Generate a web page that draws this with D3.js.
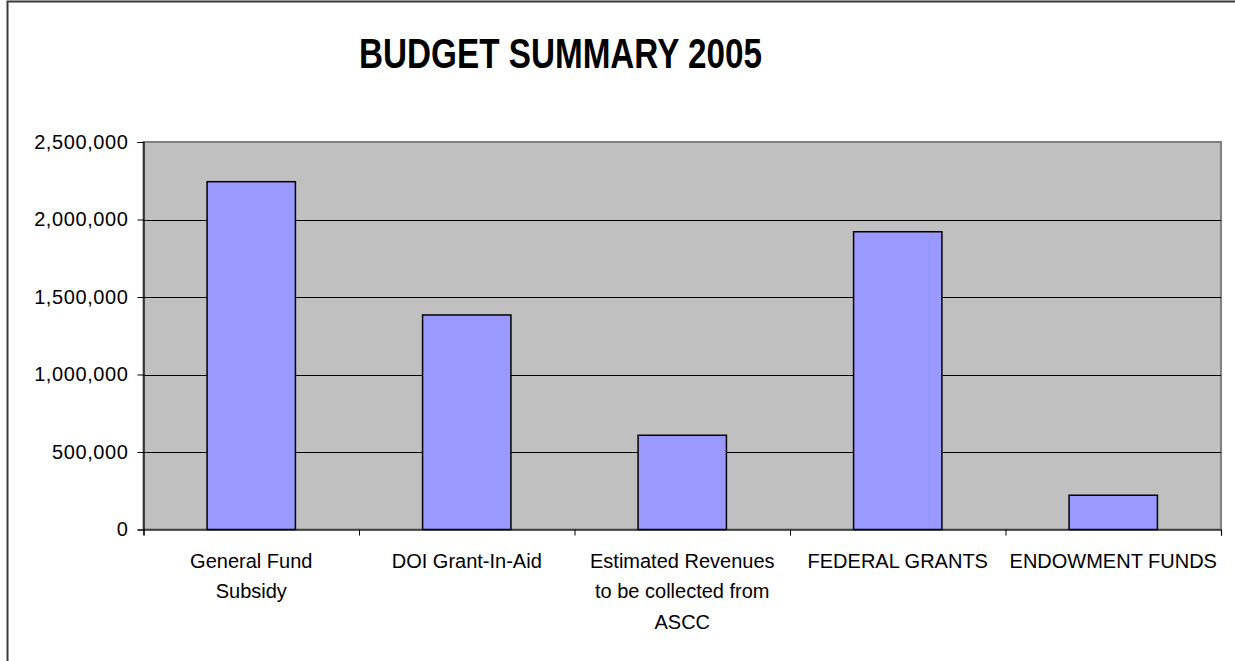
<!DOCTYPE html>
<html>
<head>
<meta charset="utf-8">
<script src="https://cdn.jsdelivr.net/npm/d3@7"></script>
<style>
  html, body { margin: 0; padding: 0; background: #fff; overflow: hidden; }
  svg { display: block; }
  text { font-family: "Liberation Sans", Arial, sans-serif; fill: #000; }
</style>
</head>
<body>
<script>
// 資料
var title = "BUDGET SUMMARY 2005";
var categories = ["General Fund Subsidy", "DOI Grant-In-Aid", "Estimated Revenues to be collected from ASCC", "FEDERAL GRANTS", "ENDOWMENT FUNDS"];
var labelLines = [["General Fund", "Subsidy"], ["DOI Grant-In-Aid"], ["Estimated Revenues", "to be collected from", "ASCC"], ["FEDERAL GRANTS"], ["ENDOWMENT FUNDS"]];
var values = [2244000, 1384000, 608000, 1921000, 221000];
var yTicks = [0, 500000, 1000000, 1500000, 2000000, 2500000];

var W = 1235, H = 661;
var plot = {left: 143.5, right: 1221, top: 142, bottom: 529.5};

var svg = d3.select("body").append("svg")
  .attr("width", W)
  .attr("height", H);

// 外框 (只看得到左邊和上面)
svg.append("path")
  .attr("d", "M7.5," + H + "V1.5H" + W)
  .attr("fill", "none")
  .attr("stroke", "#3a3a3a")
  .attr("stroke-width", 2);

// 標題
svg.append("text")
  .attr("x", 359).attr("y", 68)
  .attr("textLength", 403)
  .attr("lengthAdjust", "spacingAndGlyphs")
  .style("font-size", "43px")
  .style("font-weight", "bold")
  .text(title);

var x = d3.scaleBand()
  .domain(categories)
  .range([plot.left, plot.right])
  .padding(0);

var y = d3.scaleLinear()
  .domain([0, 2500000])
  .range([plot.bottom, plot.top]);

// 背景
svg.append("rect")
  .attr("x", plot.left).attr("y", plot.top)
  .attr("width", plot.right - plot.left)
  .attr("height", plot.bottom - plot.top)
  .attr("fill", "#c0c0c0")
  .attr("stroke", "#808080")
  .attr("stroke-width", 2);

// 格線
svg.append("g")
  .selectAll("line")
  .data(yTicks.filter(function(d) { return d > 0 && d < 2500000; }))
  .enter().append("line")
  .attr("x1", plot.left).attr("x2", plot.right)
  .attr("y1", function(d) { return Math.round(y(d)) + 0.5; })
  .attr("y2", function(d) { return Math.round(y(d)) + 0.5; })
  .attr("stroke", "#000")
  .attr("stroke-width", 1);

// 長條
var barW = x.bandwidth() * 0.41;
svg.append("g")
  .selectAll("rect")
  .data(values)
  .enter().append("rect")
  .attr("x", function(d, i) { return x(categories[i]) + (x.bandwidth() - barW) / 2; })
  .attr("y", function(d) { return y(d); })
  .attr("width", barW)
  .attr("height", function(d) { return y(0) - y(d); })
  .attr("fill", "#9999ff")
  .attr("stroke", "#000")
  .attr("stroke-width", 1.5);

// Y軸
var yAxis = d3.axisLeft(y)
  .tickValues(yTicks)
  .tickSize(6)
  .tickPadding(9)
  .tickFormat(d3.format(",.0f"));

var gy = svg.append("g")
  .attr("transform", "translate(" + plot.left + ",0)")
  .call(yAxis);
gy.select(".domain").attr("stroke", "#000").attr("stroke-width", 1.2);
gy.selectAll(".tick line").attr("stroke", "#000");
gy.selectAll(".tick text")
  .style("font-size", "20px")
  .style("letter-spacing", "0.6px")
  .style("font-family", "'Liberation Sans', Arial, sans-serif")
  .attr("fill", "#000");

// X軸 (刻度在類別邊界)
var xEdge = d3.scaleLinear().domain([0, categories.length]).range([plot.left, plot.right]);
var gx = svg.append("g")
  .attr("transform", "translate(0," + plot.bottom + ")")
  .call(d3.axisBottom(xEdge).ticks(categories.length).tickSize(6).tickFormat(""));
gx.select(".domain").attr("stroke", "#000").attr("stroke-width", 1.2);
gx.selectAll(".tick line").attr("stroke", "#000");

// 類別標籤
var labels = svg.append("g")
  .selectAll("text")
  .data(labelLines)
  .enter().append("text")
  .attr("text-anchor", "middle")
  .style("font-size", "20px")
  .attr("transform", function(d, i) {
    return "translate(" + (x(categories[i]) + x.bandwidth() / 2) + "," + (plot.bottom + 38) + ")";
  });
labels.selectAll("tspan")
  .data(function(d) { return d; })
  .enter().append("tspan")
  .attr("x", 0)
  .attr("y", function(d, j) { return j * 30.5; })
  .text(function(d) { return d; });
</script>
</body>
</html>
